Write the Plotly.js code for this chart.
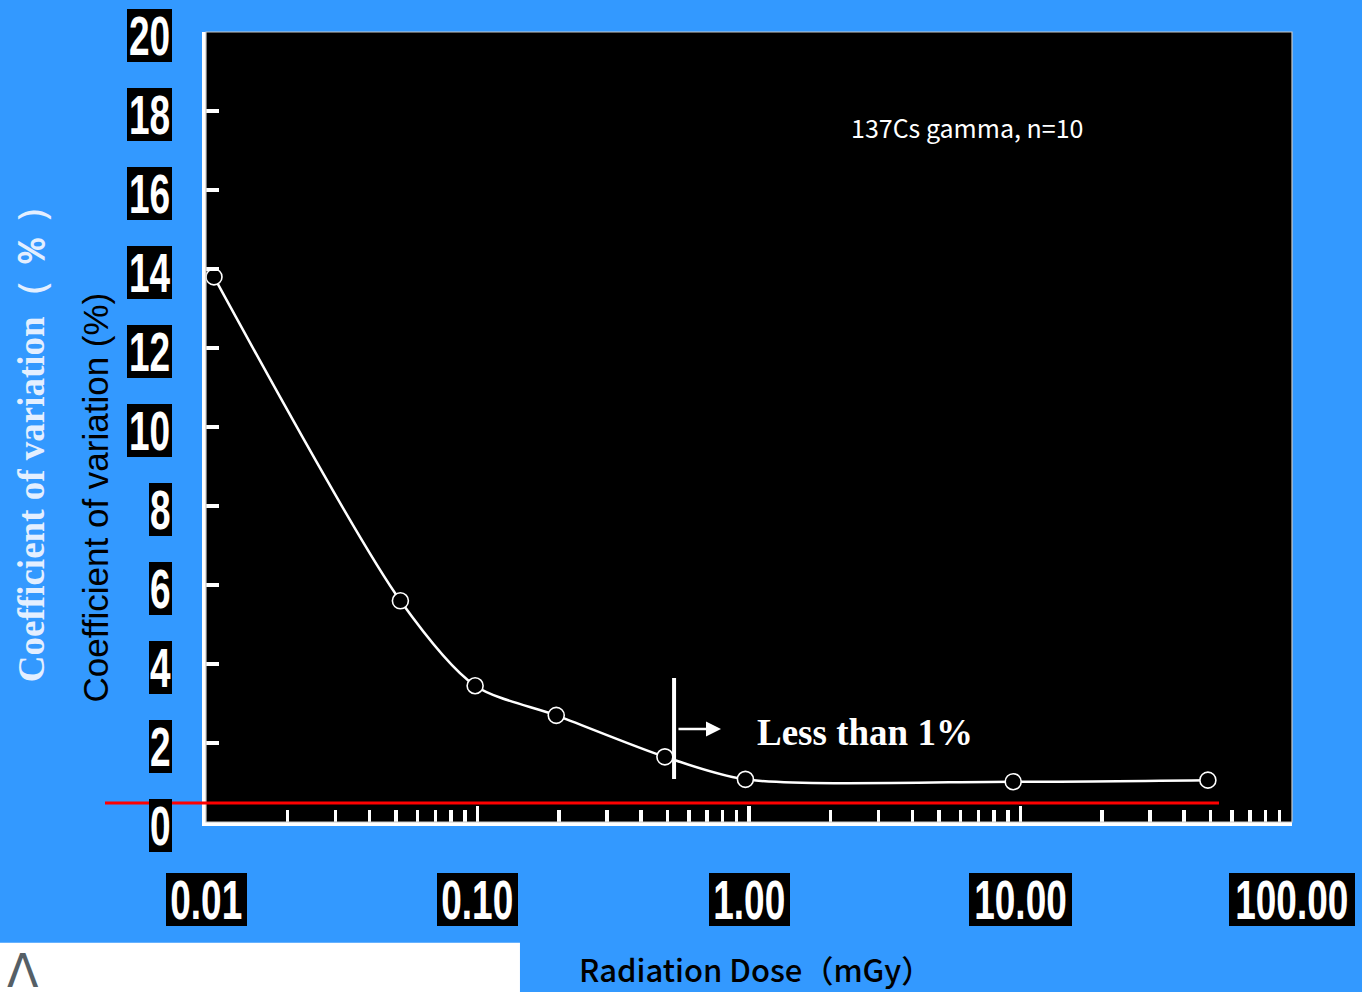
<!DOCTYPE html>
<html>
<head>
<meta charset="utf-8">
<script src="https://cdn.plot.ly/plotly-3.0.1.min.js"></script>
<style>html,body{margin:0;padding:0;background:#3399ff;}#chart{width:1362px;height:992px;}</style>
</head>
<body>
<div id="chart"></div>
<script>
// ---- data ----
const doseMGy = [0.0107, 0.052, 0.098, 0.195, 0.49, 0.97, 9.4, 49];
const cvPercent = [13.8, 5.6, 3.45, 2.7, 1.65, 1.08, 1.02, 1.06];
const xTickVals = [0.01, 0.1, 1, 10, 100];
const xTickText = ['0.01', '0.10', '1.00', '10.00', '100.00'];
const yTickVals = [0, 2, 4, 6, 8, 10, 12, 14, 16, 18, 20];
const yTickText = ['0', '2', '4', '6', '8', '10', '12', '14', '16', '18', '20'];
const thresholdCV = 0.48;

// minor ticks 2..9 within each decade
const xMinorVals = [];
for (let d = 0; d < xTickVals.length - 1; d++) {
  for (let m = 2; m <= 9; m++) xMinorVals.push(xTickVals[d] * m);
}

const tickFont = "'Liberation Sans', Arial, sans-serif";
const tickFontSize = 56;
const squeeze = 0.66;           // horizontal compression of tick label glyphs
function boxWidth(s) {          // black label box width
  let w = 0;
  for (const ch of s) w += (ch === '.') ? 13 : 22.5;
  return w;
}

const annotations = [];
yTickVals.forEach((v, i) => {
  annotations.push({
    xref: 'paper', yref: 'y', x: -0.0313, y: v, yshift: -3,
    xanchor: 'right', yanchor: 'middle', showarrow: false,
    text: yTickText[i], bgcolor: '#000000', borderpad: 0, borderwidth: 0,
    width: boxWidth(yTickText[i]), height: 53,
    font: {family: tickFont, size: tickFontSize, color: '#ffffff', weight: 'bold'}
  });
});
xTickVals.forEach((v, i) => {
  annotations.push({
    xref: 'x', yref: 'paper', x: Math.log10(v), y: -0.0987,
    xanchor: 'center', yanchor: 'middle', showarrow: false,
    text: xTickText[i], bgcolor: '#000000', borderpad: 0, borderwidth: 0,
    width: boxWidth(xTickText[i]), height: 53,
    font: {family: tickFont, size: tickFontSize, color: '#ffffff', weight: 'bold'}
  });
});
const nTickAnn = annotations.length;

// axis titles and notes
annotations.push({
  xref: 'paper', yref: 'paper', x: -0.160, y: 0.49, textangle: -90,
  xanchor: 'center', yanchor: 'middle', showarrow: false,
  text: '<b>Coefficient of variation（ ％ ）</b>',
  font: {family: "'Liberation Serif', 'Times New Roman', serif", size: 37, color: '#e4efff'}
});
annotations.push({
  xref: 'paper', yref: 'paper', x: -0.102, y: 0.411, textangle: -90,
  xanchor: 'center', yanchor: 'middle', showarrow: false,
  text: 'Coefficient of variation (%)',
  font: {family: "'Liberation Sans', Arial, sans-serif", size: 35, color: '#000000'}
});
annotations.push({
  xref: 'paper', yref: 'paper', x: 0.506, y: -0.186,
  xanchor: 'center', yanchor: 'middle', showarrow: false,
  text: 'Radiation Dose（mGy）',
  font: {family: "'Noto Sans CJK JP', sans-serif", size: 31, color: '#000000', weight: 500}
});
annotations.push({
  xref: 'paper', yref: 'paper', x: 0.7007, y: 0.8797,
  xanchor: 'center', yanchor: 'middle', showarrow: false,
  text: '137Cs gamma, n=10',
  font: {family: "'Noto Sans CJK JP', sans-serif", size: 25, color: '#ffffff'}
});
annotations.push({
  xref: 'paper', yref: 'paper', x: 0.6068, y: 0.1127,
  xanchor: 'center', yanchor: 'middle', showarrow: false,
  text: '<b>Less than 1%</b>',
  font: {family: "'Liberation Serif', 'Times New Roman', serif", size: 37, color: '#ffffff'}
});
annotations.push({
  xref: 'paper', yref: 'paper', x: 0.4742, y: 0.1177,
  ax: -44, ay: 0, axref: 'pixel', ayref: 'pixel',
  showarrow: true, text: '', arrowhead: 2, arrowsize: 1.2, arrowwidth: 2.5, arrowcolor: '#ffffff'
});
annotations.push({
  xref: 'paper', yref: 'paper', x: -0.185, y: -0.152,
  xanchor: 'left', yanchor: 'top', showarrow: false,
  text: 'Λ',
  font: {family: "'DejaVu Sans', sans-serif", size: 46, color: '#555f66'}
});

const trace = {
  type: 'scatter', mode: 'lines+markers',
  x: doseMGy, y: cvPercent,
  line: {color: '#ffffff', width: 2.5, shape: 'spline', smoothing: 0.8},
  marker: {symbol: 'circle', size: 16, color: '#000000', line: {color: '#ffffff', width: 1.6}},
  cliponaxis: false, hoverinfo: 'skip'
};

const layout = {
  width: 1362, height: 992,
  margin: {l: 206, r: 70, t: 32, b: 170},
  paper_bgcolor: '#3399ff', plot_bgcolor: '#000000',
  showlegend: false,
  xaxis: {
    type: 'log', range: [-2, 2], showgrid: false, zeroline: false,
    showline: true, linecolor: '#ffffff', linewidth: 4,
    tickmode: 'array', tickvals: xTickVals, ticktext: xTickText, showticklabels: false,
    ticks: 'inside', ticklen: 16, tickwidth: 3.5, tickcolor: '#ffffff',
    minor: {tickmode: 'array', tickvals: xMinorVals, ticks: 'inside', ticklen: 12, tickwidth: 3.5, tickcolor: '#ffffff', showgrid: false},
    fixedrange: true
  },
  yaxis: {
    range: [0, 20], showgrid: false, zeroline: false,
    showline: true, linecolor: '#ffffff', linewidth: 4,
    tickmode: 'array', tickvals: yTickVals, ticktext: yTickText, showticklabels: false,
    ticks: 'inside', ticklen: 13, tickwidth: 3.5, tickcolor: '#ffffff',
    fixedrange: true
  },
  shapes: [
    {type: 'rect', xref: 'paper', yref: 'paper', x0: 0, x1: 1, y0: 0, y1: 1,
     line: {color: '#c8c8c8', width: 1.2}, fillcolor: 'rgba(0,0,0,0)', layer: 'above'},
    {type: 'line', xref: 'paper', yref: 'y', x0: -0.093, x1: 0.9328, y0: thresholdCV, y1: thresholdCV,
     line: {color: '#ff0000', width: 3}},
    {type: 'line', xref: 'paper', yref: 'paper', x0: 0.431, x1: 0.431, y0: 0.0544, y1: 0.1823,
     line: {color: '#ffffff', width: 4}},
    {type: 'rect', xref: 'paper', yref: 'paper', x0: -0.19, x1: 0.2891, y0: -0.23, y1: -0.1527,
     line: {width: 0}, fillcolor: '#ffffff', layer: 'below'}
  ],
  annotations: annotations
};

const gd = document.getElementById('chart');
Plotly.newPlot(gd, [trace], layout, {displayModeBar: false, staticPlot: true}).then(() => {
  // compress the tick label glyphs horizontally (condensed look of the original)
  gd.querySelectorAll('g.annotation').forEach(g => {
    const idx = +g.getAttribute('data-index');
    if (idx >= nTickAnn) return;
    const t = g.querySelector('text.annotation-text');
    if (!t) return;
    t.removeAttribute('clip-path');
    t.style.clipPath = 'none';
    const bb = t.getBBox();
    const cx = bb.x + bb.width / 2;
    t.setAttribute('transform', `translate(${cx},0) scale(${squeeze},1) translate(${-cx},0)`);
  });
});
</script>
</body>
</html>
